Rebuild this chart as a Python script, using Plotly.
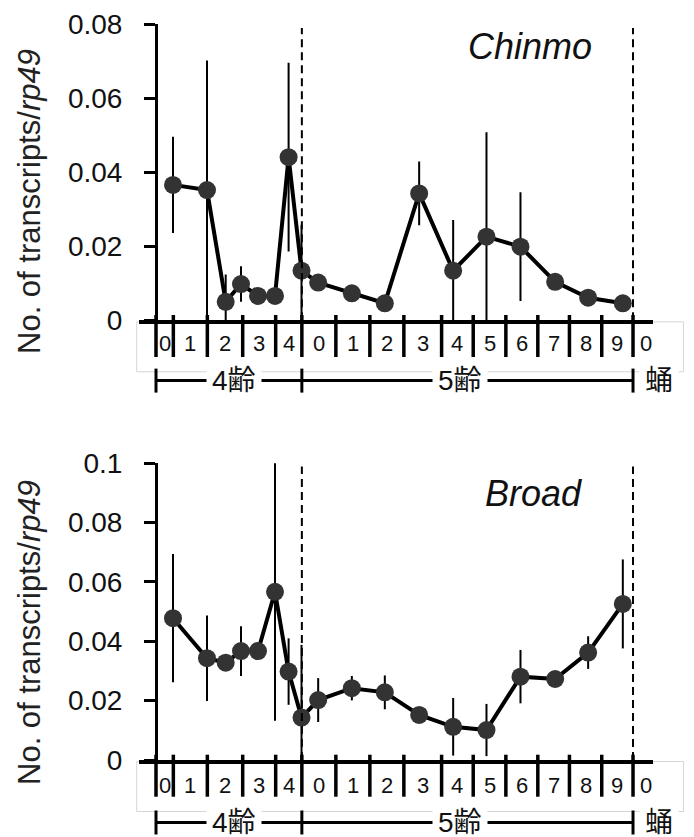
import plotly.graph_objects as go

W, H = 694, 837

# ---------------- data ----------------
# sampling times (x units: ~1 per day, origin at the start of the 4th instar axis)
sample_t = [0.5, 1.5, 2.05, 2.5, 3.0, 3.5, 3.9, 4.28, 4.77, 5.76, 6.73,
            7.74, 8.74, 9.72, 10.72, 11.74, 12.71, 13.73]

chinmo = [0.0366, 0.0352, 0.0050, 0.0098, 0.0066, 0.0066, 0.0441, 0.0134, 0.0102,
          0.0073, 0.0046, 0.0343, 0.0134, 0.0226, 0.0199, 0.0104, 0.0061, 0.0046]
chinmo_sd = [0.0130, 0.0350, 0.0074, 0.0048, 0.0015, 0.0015, 0.0255, 0.0124, 0.0020,
             0.0015, 0.0010, 0.0086, 0.0137, 0.0282, 0.0147, 0.0020, 0.0015, 0.0010]

broad = [0.0478, 0.0343, 0.0328, 0.0367, 0.0367, 0.0567, 0.0298, 0.0143, 0.0202,
         0.0242, 0.0228, 0.0152, 0.0112, 0.0101, 0.0281, 0.0273, 0.0362, 0.0526]
broad_sd = [0.0216, 0.0144, 0.0020, 0.0084, 0.0020, 0.0435, 0.0112, 0.0245, 0.0074,
            0.0041, 0.0057, 0.0020, 0.0097, 0.0088, 0.0090, 0.0020, 0.0055, 0.0150]

# day cells under the axis
cell_bounds = [0, 0.51, 1.51, 2.55, 3.52, 4.29, 5.29, 6.29, 7.29, 8.40, 9.33,
               10.29, 11.23, 12.16, 13.11, 14.03, 14.82]
cell_labels = ["0", "1", "2", "3", "4", "0", "1", "2", "3", "4", "5", "6",
               "7", "8", "9", "0"]

# developmental stages
stage_bounds = [0, 4.29, 14.03]
stage_labels = ["4齢", "5齢", "蛹"]
stage_label_t = [2.29, 8.94, 14.79]

chinmo_yticks = [0, 0.02, 0.04, 0.06, 0.08]
broad_yticks = [0, 0.02, 0.04, 0.06, 0.08, 0.1]

gene_names = ["Chinmo", "Broad"]
ytitle = "No. of transcripts/<i>rp49</i>"

# ---------------- layout geometry (pixels) ----------------
FONT = "Liberation Sans, Arial, sans-serif"
CJK = "Liberation Sans, Noto Sans CJK JP, sans-serif"
PX_PER_UNIT = 34.0
YAXIS_PX = 156.0
X_LEFT_PX, X_RIGHT_PX = 139.0, 653.0
x_range = [(X_LEFT_PX - YAXIS_PX) / PX_PER_UNIT, (X_RIGHT_PX - YAXIS_PX) / PX_PER_UNIT]


def px(x):
    return x / W


def py(y):
    return 1 - y / H


def tx(t):
    """x-unit -> paper fraction (same linear map as the x axes)."""
    return px(YAXIS_PX + t * PX_PER_UNIT)


panels = [
    dict(y=chinmo, sd=chinmo_sd, ticks=chinmo_yticks, top=24.3, axis=320.3,
         dash_top=0.079, label_xy=(530, 46), title_y=202, row=380.6, digit_y=343.5),
    dict(y=broad, sd=broad_sd, ticks=broad_yticks, top=463.3, axis=760.0,
         dash_top=0.0989, label_xy=(533, 493), title_y=633, row=822.5, digit_y=785),
]

fig = go.Figure()
shapes = []
annotations = []
layout = {}

for i, (p, name) in enumerate(zip(panels, gene_names)):
    sfx = "" if i == 0 else str(i + 1)
    xr, yr = "x" + sfx, "y" + sfx

    fig.add_trace(go.Scatter(
        x=sample_t, y=p["y"], xaxis=xr, yaxis=yr, mode="lines+markers",
        line=dict(color="black", width=4),
        marker=dict(size=18, color="#333333", line=dict(width=0)),
        error_y=dict(type="data", array=p["sd"], symmetric=True,
                     color="black", thickness=2, width=0),
        showlegend=False, hoverinfo="skip",
    ))

    ymax = p["ticks"][-1]
    layout["xaxis" + sfx] = dict(
        domain=[px(X_LEFT_PX), px(X_RIGHT_PX)], range=x_range, anchor=yr,
        showline=True, linecolor="black", linewidth=3.5, ticks="",
        showticklabels=False, showgrid=False, zeroline=False, fixedrange=True,
        automargin=False,
    )
    layout["yaxis" + sfx] = dict(
        domain=[py(p["axis"]), py(p["top"])], range=[0, ymax],
        anchor="free", position=px(YAXIS_PX),
        showline=True, linecolor="black", linewidth=3,
        ticks="outside", ticklen=11, tickwidth=3, tickcolor="black",
        tickvals=p["ticks"], ticktext=[("0" if v == 0 else f"{v:g}") for v in p["ticks"]],
        tickfont=dict(family=FONT, size=28, color="#111111"),
        ticklabelstandoff=16,
        showgrid=False, zeroline=False, fixedrange=True, automargin=False,
    )

    # light table outline
    shapes.append(dict(type="rect", xref="paper", yref="paper",
                       x0=px(136.7), x1=px(683.5), y0=py(p["axis"] + 51.5), y1=py(p["axis"] + 1.5),
                       line=dict(color="#d6d6d6", width=1), fillcolor="rgba(0,0,0,0)", layer="below"))

    # cell divider bars
    for b in cell_bounds[:-1]:
        shapes.append(dict(type="line", xref=xr, yref="paper", x0=b, x1=b,
                           y0=py(p["axis"] + 36.7), y1=py(p["axis"] - 5.3),
                           line=dict(color="black", width=3.5)))
    # cell labels
    for k, lab in enumerate(cell_labels):
        annotations.append(dict(xref="paper", yref="paper",
                                x=tx((cell_bounds[k] + cell_bounds[k + 1]) / 2), y=py(p["digit_y"]),
                                text=lab, showarrow=False, xanchor="center", yanchor="middle",
                                font=dict(family=FONT, size=22, color="#111111")))

    # stage boundaries (dashed)
    for b in stage_bounds[1:]:
        shapes.append(dict(type="line", xref=xr, yref=yr, x0=b, x1=b, y0=0, y1=p["dash_top"],
                           line=dict(color="black", width=2, dash="8px,5px")))

    # stage row line with caps
    shapes.append(dict(type="line", xref=xr, yref="paper", x0=stage_bounds[0], x1=stage_bounds[-1],
                       y0=py(p["row"]), y1=py(p["row"]), line=dict(color="black", width=3)))
    for b in stage_bounds:
        shapes.append(dict(type="line", xref=xr, yref="paper", x0=b, x1=b,
                           y0=py(p["row"] + 12), y1=py(p["row"] - 12),
                           line=dict(color="black", width=3)))
    for t, lab in zip(stage_label_t, stage_labels):
        annotations.append(dict(xref="paper", yref="paper", x=tx(t), y=py(p["row"]), text=lab,
                                showarrow=False, xanchor="center", yanchor="middle",
                                bgcolor="white", borderpad=5,
                                font=dict(family=CJK, size=28, color="#111111")))

    # gene label
    annotations.append(dict(xref="paper", yref="paper", x=px(p["label_xy"][0]), y=py(p["label_xy"][1]),
                            text=f"<i>{name}</i>", showarrow=False, xanchor="center", yanchor="middle",
                            font=dict(family=FONT, size=36, color="#111111")))
    # y-axis title
    annotations.append(dict(xref="paper", yref="paper", x=px(29), y=py(p["title_y"]),
                            text=ytitle, textangle=-90, showarrow=False,
                            xanchor="center", yanchor="middle",
                            font=dict(family=FONT, size=31, color="#222222")))

fig.update_layout(
    template="none",
    width=W, height=H, margin=dict(l=0, r=0, t=0, b=0, pad=0, autoexpand=False),
    paper_bgcolor="white", plot_bgcolor="rgba(0,0,0,0)",
    shapes=shapes, annotations=annotations, showlegend=False,
    **layout,
)

fig.write_html("out.html",
               config={"displayModeBar": False, "responsive": False},
               post_script="document.body.style.margin='0px';document.body.style.overflow='hidden';")
